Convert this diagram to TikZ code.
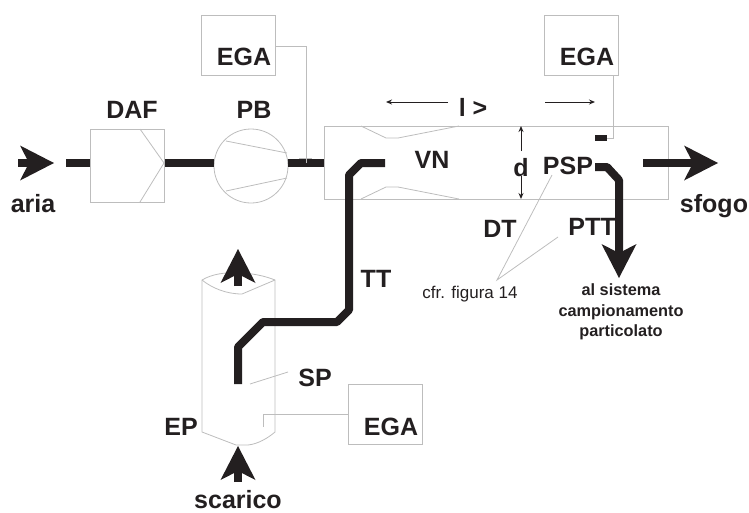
\documentclass[tikz,border=0pt]{standalone}
\usepackage{fontspec}
\setmainfont{Liberation Sans}
\usetikzlibrary{arrows.meta}
\definecolor{ink}{HTML}{231F20}
\definecolor{thin}{HTML}{BDBDBD}
\tikzset{
  pipe/.style={line width=8pt,draw=ink,line join=bevel},
  bigarrow/.style={pipe,-{Stealth[length=34pt,width=35pt,inset=9pt,line width=0pt]}},
  light/.style={draw=thin,line width=0.8pt},
  box/.style={light,rectangle,inner sep=0pt,minimum width=#1,minimum height=60pt},
  dim/.style={draw=ink,line width=1pt,-{Stealth[length=6pt,width=5pt]}},
  lab/.style={inner sep=0pt,text=ink,font=\fontsize{25}{25}\selectfont\bfseries},
  note/.style={inner sep=0pt,text=ink,font=\fontsize{17}{17}\selectfont},
  dest/.style={inner sep=0pt,text=ink,align=center,font=\fontsize{16.3}{20.3}\selectfont\bfseries},
}

\begin{document}
\begin{tikzpicture}[x=1pt,y=-1pt]
\useasboundingbox (0,0) rectangle (749,512);

\coordinate (A) at (66,163);
\coordinate (B) at (306,163);
\coordinate (C) at (18,163);
\coordinate (D) at (54,163);
\coordinate (E) at (643,163);
\coordinate (F) at (718,163);

\node[box=74pt,minimum height=73pt] (daf) at (127.5,165.5) {};
\node[light,circle,inner sep=0pt,minimum size=74pt] (pb) at (251,166) {};
\node[box=74pt] (egaa) at (238,45) {};
\node[box=74pt] (egab) at (581.5,45) {};
\node[box=74pt] (egac) at (385.5,414.5) {};
\node[box=344pt,minimum height=73pt] (dt) at (496.5,162.5) {};

% filter and pump
\draw[light] (140,129) -- (164,163) -- (140,202);
\draw[light] (226,141) -- (287,153);
\draw[light] (226,191) -- (287,178);

% venturi
\draw[light] (361,126) -- (386,138) -- (398,138) -- (459,126);
\draw[light] (361,199) -- (386,187) -- (398,187) -- (459,199);

% exhaust pipe
\draw[light] (202,432) -- (202,280) .. controls (212,274) and (226,272) .. (238,273)
  .. controls (252,273) and (265,276) .. (275,280) -- (275,432)
  .. controls (268,438) and (258,444) .. (248,445) -- (236,445) -- cycle;
\draw[light] (202,280) .. controls (212,288) and (226,294) .. (242,294) -- (275,280);

% main line
\draw[pipe] (A) -- (daf.west |- A);
\draw[pipe] (daf.east |- A) -- (pb.west |- A);
\draw[pipe] (pb.east |- A) -- (dt.west |- A);
\draw[bigarrow] (C) -- (D);
\draw[bigarrow] (E) -- (F);

% transfer tube
\coordinate (tta) at (385,163);
\coordinate (ttb) at (238,384);
\draw[pipe] (tta) -- (361,163) -- (349,175) -- (349,310) -- (337,322) -- (263,322) -- (238,347) -- (ttb);

% sampling
\coordinate (ptta) at (595,167);
\coordinate (pttb) at (619,278);
\draw[pipe] (ptta) -- (607,167) -- (619,180) -- (619,250);
\draw[bigarrow] (619,245) -- (pttb);
\draw[ink,line width=6pt] (595,138) -- (607,138);

% arrows on the exhaust
\coordinate (epa) at (238,286);
\coordinate (epb) at (238,249);
\coordinate (epc) at (238,482);
\coordinate (epd) at (238,446);
\draw[bigarrow] (epa) -- (epb);
\draw[bigarrow] (epc) -- (epd);

% analyser links
\draw[light] (egaa.east |- 0,46) -| (B);
\draw[light,line width=1.4pt] (299,158.5) -- (312,158.5);
\draw[light] (613,75) |- (607,138);
\draw[light] (egac.west) -| (263,427);

% leaders
\draw[light] (250,384) -- (288,372);
\draw[light] (552,175) -- (497,280) -- (558,237);

% dimensions
\draw[dim] (448,102) -- (386,102);
\draw[dim] (545,102) -- (595,102);
\draw[dim] (521,151) -- (521,126);
\draw[dim] (521,176) -- (521,199);

\node[lab] (ta) at (244,57) {EGA};
\node[lab] (tb) at (587,57) {EGA};
\node[lab] (tc) at (391,427) {EGA};
\node[lab] (tdaf) at (132,110) {DAF};
\node[lab] (tpb) at (254,110) {PB};
\node[lab] (taria) at (33,204) {aria};
\node[lab] (tsfogo) at (714,206) {sfogo};
\node[lab] (tscarico) at (238,500) {scarico};
\node[lab] (tl) at (473,107) {l >};
\node[lab] (td) at (521,168) {d};
\node[lab] (tvn) at (432,160) {VN};
\node[lab] (tpsp) at (568,166) {PSP};
\node[lab] (tdt) at (500,229) {DT};
\node[lab] (tptt) at (592,227) {PTT};
\node[lab] (ttt) at (376,279) {TT};
\node[lab] (tsp) at (315,378) {SP};
\node[lab] (tep) at (181,427) {EP};
\node[note] (tcfr) at (470,294) {cfr. figura 14};
\node[dest] (tdest) at (621,312) {al sistema\\campionamento\\particolato};

\end{tikzpicture}
\end{document}
